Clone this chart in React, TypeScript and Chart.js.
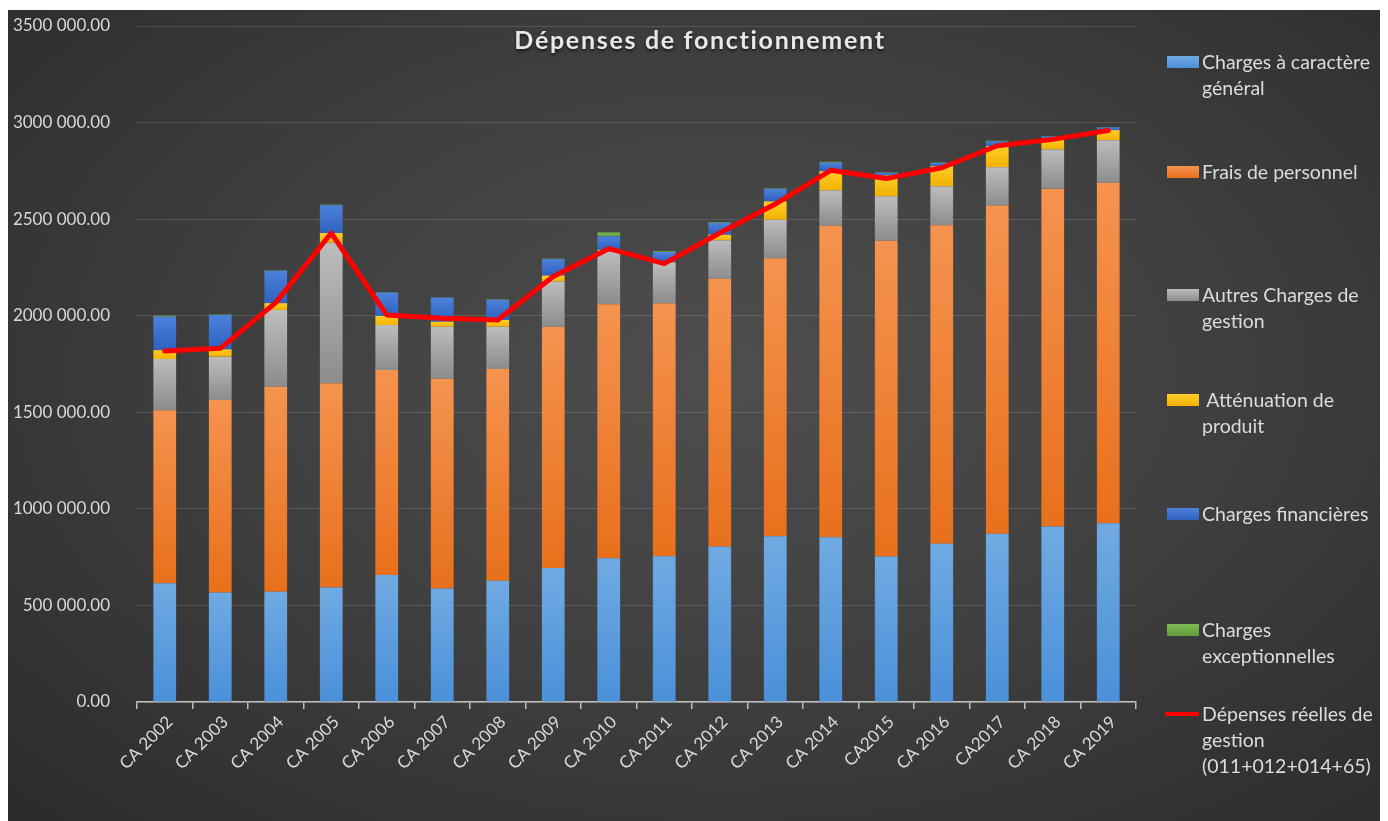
import React, { useEffect, useRef } from "react";
import { Chart, registerables } from "chart.js";

Chart.register(...registerables);

const categories = [
  "CA 2002", "CA 2003", "CA 2004", "CA 2005", "CA 2006", "CA 2007", "CA 2008", "CA 2009", "CA 2010",
  "CA 2011", "CA 2012", "CA 2013", "CA 2014", "CA2015", "CA 2016", "CA2017", "CA 2018", "CA 2019",
];

const chargesGenerales = [615000, 567000, 571000, 593000, 658000, 588000, 628000, 694000, 744000, 755000, 805000, 858000, 853000, 753000, 819000, 871000, 909000, 926000];
const fraisPersonnel = [896000, 996000, 1061000, 1057000, 1061000, 1085000, 1096000, 1249000, 1316000, 1310000, 1386000, 1440000, 1613000, 1635000, 1649000, 1699000, 1749000, 1762000];
const autresCharges = [265000, 225000, 398000, 728000, 233000, 270000, 219000, 234000, 273000, 208000, 199000, 199000, 183000, 230000, 202000, 199000, 203000, 221000];
const attenuation = [46000, 38000, 35000, 50000, 47000, 26000, 35000, 31000, 8000, 3000, 29000, 95000, 99000, 108000, 104000, 109000, 55000, 52000];
const chargesFinancieres = [173000, 178000, 168000, 144000, 121000, 125000, 104000, 85000, 70000, 54000, 61000, 65000, 44000, 14000, 17000, 25000, 12000, 14000];
const chargesExceptionnelles = [5000, 2000, 2000, 3000, 2000, 1000, 2000, 2000, 20000, 4000, 3000, 2000, 5000, 2000, 2000, 3000, 2000, 2000];
const depensesReelles = [1817000, 1831000, 2068000, 2428000, 2004000, 1987000, 1978000, 2203000, 2347000, 2270000, 2428000, 2578000, 2753000, 2710000, 2766000, 2880000, 2913000, 2959000];

const yTicks = [0, 500000, 1000000, 1500000, 2000000, 2500000, 3000000, 3500000];

const seriesNames = [
  ["Charges à caractère", "général"],
  ["Frais de personnel"],
  ["Autres Charges de", "gestion"],
  ["\u00a0Atténuation de", "produit"],
  ["Charges financières"],
  ["Charges", "exceptionnelles"],
  ["Dépenses réelles de", "gestion", "(011+012+014+65)"],
];

const barSeries = [chargesGenerales, fraisPersonnel, autresCharges, attenuation, chargesFinancieres, chargesExceptionnelles];
const barColors = [
  ["#70aae2", "#4a90d9"],
  ["#f5934f", "#e8701c"],
  ["#bdbdbd", "#8c8c8c"],
  ["#ffcc2a", "#f2b200"],
  ["#4c82da", "#2f60c0"],
  ["#7cbc52", "#5f9c3a"],
];
const legendTops = [39, 149, 272, 377, 491, 607, 691];

function fmt(v: number): string {
  if (v === 0) return "0.00";
  const th = Math.floor(v / 1000);
  const rest = String(v % 1000).padStart(3, "0");
  return `${th} ${rest}.00`;
}

export default function App() {
  const ref = useRef<HTMLCanvasElement | null>(null);

  useEffect(() => {
    if (!ref.current) return;
    const makeBg = (ds: number) => (ctx: any) => {
      const base = barColors[ds][1];
      const chart = ctx.chart;
      if (!chart.chartArea || ctx.dataIndex === undefined) return base;
      const ys = chart.scales.y;
      if (!ys) return base;
      const i = ctx.dataIndex;
      let bottom = 0;
      for (let k = 0; k < ds; k++) bottom += barSeries[k][i];
      const top = bottom + barSeries[ds][i];
      const y0 = ys.getPixelForValue(top);
      const y1 = ys.getPixelForValue(bottom);
      if (!isFinite(y0) || !isFinite(y1) || y0 === y1) return base;
      const g = chart.ctx.createLinearGradient(0, y0, 0, y1);
      g.addColorStop(0, barColors[ds][0]);
      g.addColorStop(1, barColors[ds][1]);
      return g;
    };

    const datasets: any[] = barSeries.map((data, ds) => ({
      type: "bar",
      label: seriesNames[ds].join(" "),
      data,
      backgroundColor: makeBg(ds),
      borderWidth: 0,
      stack: "s",
      order: 2,
      categoryPercentage: 1,
      barPercentage: 0.41,
    }));
    datasets.push({
      type: "line",
      label: seriesNames[6].join(" "),
      data: depensesReelles,
      borderColor: "#ff0000",
      borderWidth: 5,
      pointRadius: 0,
      tension: 0,
      fill: false,
      order: 1,
      borderJoinStyle: "round",
      borderCapStyle: "round",
    });

    const chart = new Chart(ref.current, {
      type: "bar",
      data: { labels: categories, datasets },
      options: {
        animation: false,
        responsive: false,
        layout: { padding: { top: 16, right: 252, left: 0, bottom: 0 } },
        plugins: { legend: { display: false }, title: { display: false }, tooltip: { enabled: false } },
        scales: {
          x: {
            stacked: true,
            offset: true,
            afterFit: (s: any) => { s.height = 119; },
            border: { display: true, color: "#bfbfbf", width: 1.5 },
            grid: { display: true, offset: true, drawOnChartArea: false, drawTicks: true, tickLength: 7, color: "#bfbfbf", lineWidth: 1.5 },
            ticks: {
              color: "#d9d9d9",
              font: { family: "Lato", size: 17 },
              minRotation: 45,
              maxRotation: 45,
              autoSkip: false,
              padding: 3,
              labelOffset: 5,
            },
          },
          y: {
            stacked: true,
            min: 0,
            max: 3500000,
            afterFit: (s: any) => { s.width = 129; },
            afterBuildTicks: (s: any) => { s.ticks = yTicks.map((v) => ({ value: v })); },
            border: { display: false },
            grid: { color: "rgba(255,255,255,0.13)", lineWidth: 1, drawTicks: true, tickLength: 25, tickColor: "rgba(0,0,0,0)" },
            ticks: {
              color: "#d9d9d9",
              font: { family: "Lato", size: 17 },
              padding: 2,
              callback: (v: any) => fmt(Number(v)),
            },
          },
        },
      },
    });
    return () => chart.destroy();
  }, []);

  return (
    <div
      style={{
        position: "relative",
        width: 1380,
        height: 811,
        marginTop: 2,
        background: "radial-gradient(ellipse 75% 80% at 52% 45%, #4e4e4e 0%, #404040 45%, #2a2a2a 100%)",
        fontFamily: "Lato, sans-serif",
        overflow: "hidden",
      }}
    >
      <canvas ref={ref} width={1380} height={811} style={{ position: "absolute", left: 0, top: 0 }} />
      <div
        style={{
          position: "absolute",
          left: 692,
          top: 14,
          transform: "translateX(-50%)",
          color: "#e8e8e8",
          fontWeight: 700,
          fontSize: 25,
          letterSpacing: 1.7,
          whiteSpace: "nowrap",
          textShadow: "0 2px 3px rgba(0,0,0,0.6)",
        }}
      >
        Dépenses de fonctionnement
      </div>
      {seriesNames.map((lines, i) => (
        <div key={i} style={{ position: "absolute", left: 1159, top: legendTops[i], width: 225 }}>
          {i < 6 ? (
            <div
              style={{
                position: "absolute",
                left: 0,
                top: 7,
                width: 32,
                height: 12,
                background: `linear-gradient(${barColors[i][0]}, ${barColors[i][1]})`,
              }}
            />
          ) : (
            <div style={{ position: "absolute", left: -2, top: 11, width: 34, height: 4, background: "#ff0000" }} />
          )}
          <div style={{ marginLeft: 35, color: "#dcdcdc", fontSize: 19.5, lineHeight: "26px", whiteSpace: "nowrap" }}>
            {lines.map((l, j) => (
              <div key={j}>{l}</div>
            ))}
          </div>
        </div>
      ))}
    </div>
  );
}
